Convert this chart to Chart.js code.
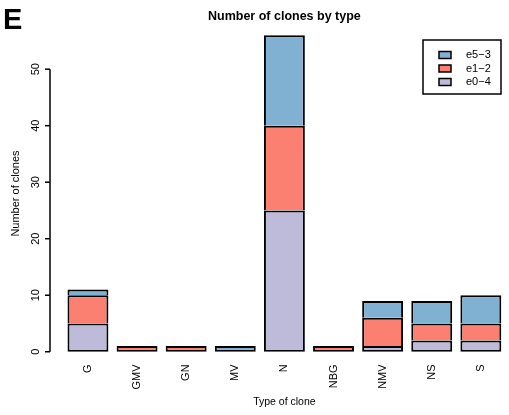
<!DOCTYPE html>
<html>
<head>
<meta charset="utf-8">
<script src="https://cdn.jsdelivr.net/npm/chart.js@4"></script>
<style>
  html, body { margin: 0; padding: 0; background: #fff; }
</style>
</head>
<body>
<canvas id="chart" width="509" height="415"></canvas>
<script>
// data
const categories = ['G', 'GMV', 'GN', 'MV', 'N', 'NBG', 'NMV', 'NS', 'S'];
const e04 = [5, 0, 0, 0, 25, 0, 1, 2, 2];
const e12 = [5, 1, 1, 0, 15, 1, 5, 3, 3];
const e53 = [1, 0, 0, 1, 16, 0, 3, 4, 5];
const yTicks = [0, 10, 20, 30, 40, 50];
const seriesNames = ['e0\u22124', 'e1\u22122', 'e5\u22123'];
const seriesColors = ['#BEBADA', '#FB8072', '#80B1D3'];

const FONT = '"Liberation Sans", Arial, Helvetica, sans-serif';
const allSeries = [e04, e12, e53];

// segments below another one keep a 2px top edge, the upper one drops its bottom edge
const edgeWidth = ctx => {
  const i = ctx.dataIndex, d = ctx.datasetIndex;
  const isBottom = !allSeries.slice(0, d).some(s => s[i] > 0);
  return { left: 2, right: 2, top: 2, bottom: isBottom ? 2 : 0 };
};

const decorations = {
  id: 'decorations',
  afterDraw(chart) {
    const c = chart.ctx;
    const y = chart.scales.y;
    const area = chart.chartArea;
    const midX = (area.left + area.right) / 2;
    c.save();
    c.fillStyle = '#000';
    c.strokeStyle = '#000';

    // panel letter
    c.font = 'bold 29px ' + FONT;
    c.textAlign = 'left';
    c.textBaseline = 'alphabetic';
    c.fillText('E', 3, 29);

    // title
    c.font = 'bold 12.5px ' + FONT;
    c.textAlign = 'center';
    c.textBaseline = 'middle';
    c.fillText('Number of clones by type', midX, 17);

    // y axis (R style, detached)
    const ax = 50;
    c.lineWidth = 1.5;
    c.beginPath();
    c.moveTo(ax, y.getPixelForValue(yTicks[0]));
    c.lineTo(ax, y.getPixelForValue(yTicks[yTicks.length - 1]));
    c.stroke();
    c.font = '11px ' + FONT;
    yTicks.forEach(t => {
      const py = y.getPixelForValue(t);
      c.beginPath();
      c.moveTo(ax - 5, py);
      c.lineTo(ax, py);
      c.stroke();
      c.save();
      c.translate(36, py);
      c.rotate(-Math.PI / 2);
      c.textAlign = 'center';
      c.textBaseline = 'middle';
      c.fillText(String(t), 0, 0);
      c.restore();
    });

    // y title
    c.save();
    c.translate(16, (area.top + area.bottom) / 2);
    c.rotate(-Math.PI / 2);
    c.textAlign = 'center';
    c.textBaseline = 'middle';
    c.fillText('Number of clones', 0, 0);
    c.restore();

    // x title
    c.font = '10.5px ' + FONT;
    c.textAlign = 'center';
    c.textBaseline = 'middle';
    c.fillText('Type of clone', midX, 402);

    // legend box
    c.font = '11px ' + FONT;
    c.lineWidth = 1.5;
    c.strokeRect(423, 40, 78, 54);
    const order = [2, 1, 0];
    order.forEach((s, k) => {
      const ry = 55 + k * 13.5;
      c.fillStyle = seriesColors[s];
      c.fillRect(439, ry - 3.5, 12, 7);
      c.strokeStyle = '#000';
      c.strokeRect(439, ry - 3.5, 12, 7);
      c.fillStyle = '#000';
      c.textAlign = 'left';
      c.textBaseline = 'middle';
      c.fillText(seriesNames[s], 466, ry);
    });
    c.restore();
  }
};

new Chart(document.getElementById('chart'), {
  type: 'bar',
  data: {
    labels: categories,
    datasets: allSeries.map((s, k) => ({
      label: seriesNames[k],
      data: s,
      backgroundColor: seriesColors[k],
      borderColor: '#000',
      borderWidth: edgeWidth,
      borderSkipped: false,
      categoryPercentage: 1,
      barPercentage: 1 / 1.2
    }))
  },
  options: {
    responsive: false,
    animation: false,
    devicePixelRatio: 1,
    layout: { padding: { left: 63.4, right: 3.6, top: 22.6, bottom: 0 } },
    plugins: { legend: { display: false }, tooltip: { enabled: false }, title: { display: false } },
    scales: {
      x: {
        stacked: true,
        grid: { display: false, drawTicks: false },
        border: { display: false },
        ticks: {
          minRotation: 90, maxRotation: 90, padding: 0, autoSkip: false,
          color: '#000', font: { family: FONT, size: 11 }
        },
        afterFit: s => { s.height = 50.6; }
      },
      y: {
        stacked: true,
        display: false,
        min: -2.24,
        max: 58.24
      }
    }
  },
  plugins: [decorations]
});
</script>
</body>
</html>
